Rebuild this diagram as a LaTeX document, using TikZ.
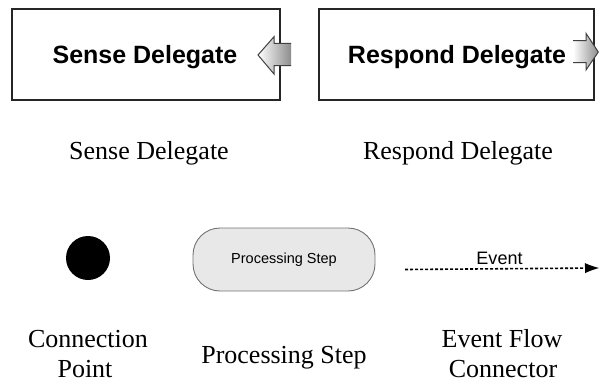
\documentclass[tikz,border=0pt]{standalone}
\usepackage{fontspec}
\setmainfont{Liberation Serif}
\newfontfamily\arialfont{Liberation Sans}
\usetikzlibrary{arrows.meta}
\begin{document}
\begin{tikzpicture}[x=1pt,y=-1pt,
  delegatebox/.style={draw=black!85, line width=1.3pt, fill=white,
    minimum width=#1, minimum height=91pt, inner sep=0pt},
  boldtext/.style={font=\arialfont\bfseries\fontsize{25}{30}\selectfont,
    inner sep=0pt, anchor=base},
  caption/.style={font=\fontsize{26}{30}\selectfont, inner sep=0pt, anchor=base},
  blockfill/.style={left color=white, right color=black!45},
  blockline/.style={draw=black!75, line width=1pt, line join=miter},
  connpoint/.style={circle, fill=black, minimum size=44pt, inner sep=0pt},
  stepbox/.style={draw=black!55, line width=0.9pt, fill=black!9,
    rounded corners=27pt, minimum width=182pt, minimum height=63pt,
    font=\arialfont\fontsize{14.5}{17}\selectfont},
  eventline/.style={line width=1.6pt, dash pattern=on 3.2pt off 1.8pt,
    -{Latex[length=14pt,width=10pt,line width=0pt]}},
  eventtext/.style={font=\arialfont\fontsize{18}{21}\selectfont,
    inner sep=0pt, anchor=base}
]
\useasboundingbox (0,0) rectangle (599,383);

% delegate boxes
\node[delegatebox=268pt] (sense) at (146,54.5) {};
\node[delegatebox=275pt] (respond) at (456.5,54.5) {};
\node[boldtext] (senseText) at (145,63) {Sense Delegate};
\node[boldtext] (respondText) at (457,63) {Respond Delegate};

% incoming block arrow on the sense delegate
\shade[blockfill] (291,43.3) -- (274,43.3) -- (274,36.7) -- (258,55)
  -- (274,74) -- (274,65.7) -- (291,65.7) -- cycle;
\draw[blockline] (291,43.3) -- (274,43.3) -- (274,36.7) -- (258,55)
  -- (274,74) -- (274,65.7) -- (291,65.7);

% outgoing block arrow on the respond delegate
\shade[blockfill] (573,40.7) -- (586,40.7) -- (586,33.3) -- (598.3,52)
  -- (586,70) -- (586,62.7) -- (573,62.7) -- cycle;
\draw[blockline] (573,40.7) -- (586,40.7) -- (586,33.3) -- (598.3,52)
  -- (586,70) -- (586,62.7) -- (573,62.7);

\node[caption] (senseCap) at (149,159) {Sense Delegate};
\node[caption] (respondCap) at (458,159) {Respond Delegate};

% connection point
\node[connpoint] (cpoint) at (88,258) {};
\node[caption] (cpCapA) at (88,347) {Connection};
\node[caption] (cpCapB) at (85,377) {Point};

% processing step
\node[stepbox] (pstep) at (284,259.5) {Processing Step};
\node[caption] (psCap) at (284,363) {Processing Step};

% event flow connector
\coordinate (evStart) at (405,269.5);
\coordinate (evEnd) at (599,268);
\draw[eventline] (evStart) -- (evEnd);
\node[eventtext] (evText) at (499.5,264) {Event};
\node[caption] (efCapA) at (502,347) {Event Flow};
\node[caption] (efCapB) at (503,377) {Connector};
\end{tikzpicture}
\end{document}
